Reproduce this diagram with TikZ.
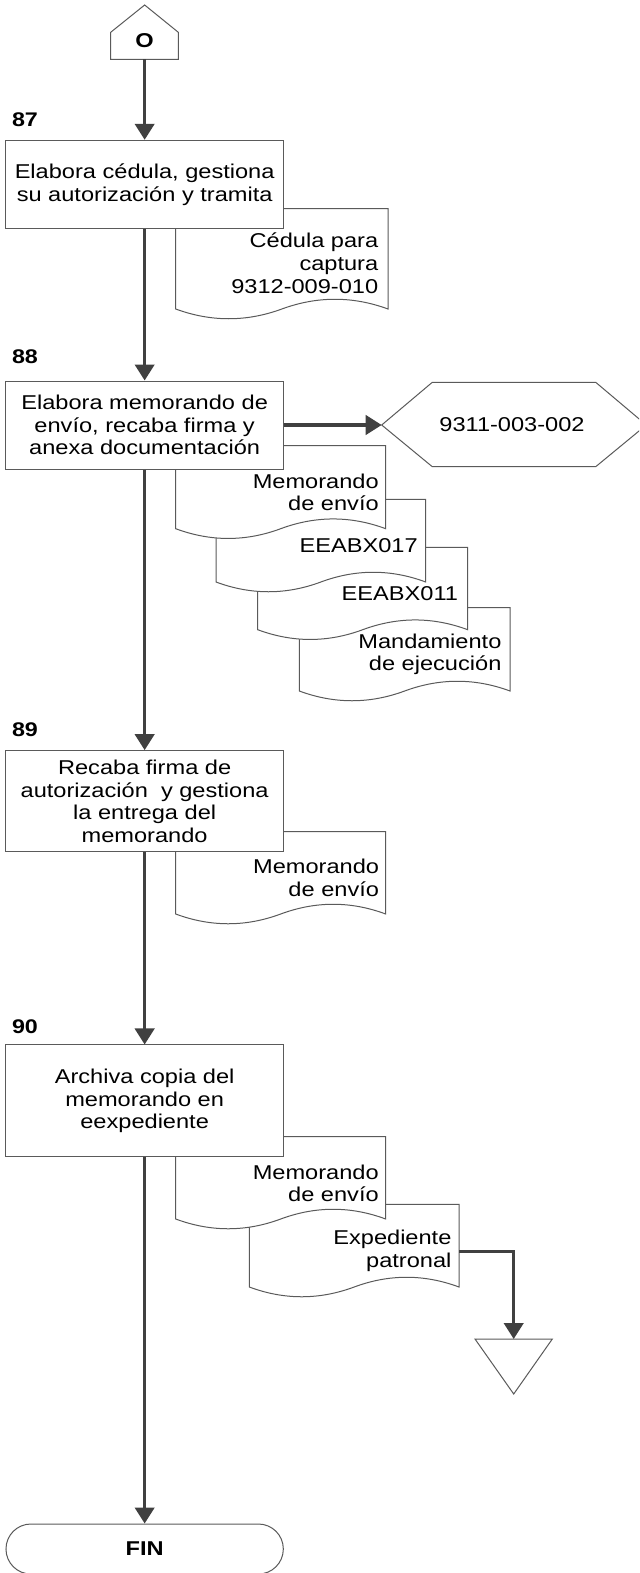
\documentclass[tikz,border=0pt]{standalone}
\usepackage{fontspec}
\setmainfont{Liberation Sans}[FakeStretch=1.18]
\usetikzlibrary{arrows.meta}
\definecolor{conncol}{HTML}{404040}
\definecolor{shapecol}{HTML}{5A5A5A}
% document shape: left x, right x, top y, bottom end y
\newcommand\docshape[4]{%
  \draw[docline] (#1,#3) -- (#2,#3) -- (#2,#4)
    .. controls ({#2-(#2-#1)/6},{#4-13}) and ({(#1+#2)/2+(#2-#1)/6},{#4-13}) .. ({(#1+#2)/2},#4)
    .. controls ({(#1+#2)/2-(#2-#1)/6},{#4+13}) and ({#1+(#2-#1)/6},{#4+13}) .. (#1,#4) -- cycle;}
\begin{document}
\begin{tikzpicture}[x=0.75pt,y=-0.75pt,
  every node/.style={font=\fontsize{15pt}{17pt}\selectfont},
  box/.style={draw=shapecol, line width=0.75pt, fill=white, rectangle, inner sep=0pt, align=center, minimum width=208pt},
  docline/.style={draw=shapecol, line width=0.75pt, fill=white},
  shapeline/.style={draw=shapecol, line width=0.75pt, fill=white},
  doctext/.style={anchor=east, align=right, inner sep=0pt},
  conn/.style={draw=conncol, line width=2.4pt, -{Triangle[width=14.5pt,length=12pt]}},
  lbl/.style={font=\bfseries\fontsize{14.8pt}{16pt}\selectfont, inner sep=0pt}]
\useasboundingbox (0,0) rectangle (639,1573);
\clip (0,0) rectangle (639,1573);

% ---- start connector (off-page)
\draw[shapeline] (110.7,59.3) -- (110.7,32.3) -- (144.65,5) -- (178.3,32.3) -- (178.3,59.3) -- cycle;
\node[lbl, font=\bfseries\fontsize{15pt}{16pt}\selectfont] (pent) at (144.65,41) {O};
\coordinate (pentb) at (144.65,59.3);

% ---- step 87
\node[lbl] (n87) at (25,119.7) {87};
\docshape{175.7}{388}{208.5}{309}
\node[doctext] (d87) at (378.5,263.3) {Cédula para\\captura\\9312-009-010};
\node[box, minimum height=66.3pt] (b87) at (144.65,184.5) {Elabora cédula, gestiona\\su autorización y tramita};

% ---- step 88
\node[lbl] (n88) at (25,357) {88};
\docshape{299.3}{510}{607.7}{691}
\node[doctext] (d88d) at (501.7,654.3) {Mandamiento\\de ejecución};
\docshape{257.7}{467.7}{547.3}{629.7}
\node[doctext] (d88c) at (458.3,593.3) {EEABX011};
\docshape{216}{425.7}{499.3}{582}
\node[doctext] (d88b) at (418,546) {EEABX017};
\docshape{175.7}{385.7}{445.5}{528.7}
\node[doctext] (d88a) at (379,492.5) {Memorando\\de envío};
\node[box, minimum height=66pt] (b88) at (144.65,425) {Elabora memorando de\\envío, recaba firma y\\anexa documentación};
\draw[shapeline] (381.7,425) -- (432.3,382.3) -- (595.7,382.3) -- (646.3,425) -- (595.7,466.7) -- (432.3,466.7) -- cycle;
\node (hex) at (512,425) {9311-003-002};
\coordinate (hexl) at (381.7,425);

% ---- step 89
\node[lbl] (n89) at (25,729.3) {89};
\docshape{175.7}{385.7}{831.7}{914}
\node[doctext] (d89) at (379.3,878) {Memorando\\de envío};
\node[box, minimum height=76pt] (b89) at (144.65,801.3) {Recaba firma de\\autorización\ \ y gestiona\\la entrega del\\memorando};

% ---- step 90
\node[lbl] (n90) at (25,1026.7) {90};
\docshape{249.3}{459}{1204.3}{1287}
\node[doctext] (d90b) at (451.7,1251) {Expediente\\patronal};
\docshape{175.7}{385.7}{1136.7}{1219}
\node[doctext] (d90a) at (379,1183.3) {Memorando\\de envío};
\node[box, minimum height=83.8pt] (b90) at (144.65,1100.85) {Archiva copia del\\memorando en\\eexpediente};
\coordinate (expR) at (459,1251.7);
\draw[shapeline] (475,1339) -- (552.3,1339) -- (513.7,1394) -- cycle;
\coordinate (triTop) at (513.7,1339);

% ---- end
\node[box, minimum height=37.5pt, rounded corners=18.7pt] (fin) at (144.65,1549) {\bfseries\fontsize{15pt}{16pt}\selectfont FIN};

% ---- connectors
\draw[conn] (pentb) -- (b87.north);
\draw[conn] (b87.south) -- (b88.north);
\draw[conn] (b88.east) -- (hexl);
\draw[conn] (b88.south) -- (b89.north);
\draw[conn] (b89.south) -- (b90.north);
\draw[conn] (b90.south) -- (fin.north);
\draw[conn] (expR) -| (triTop);
\end{tikzpicture}
\end{document}
